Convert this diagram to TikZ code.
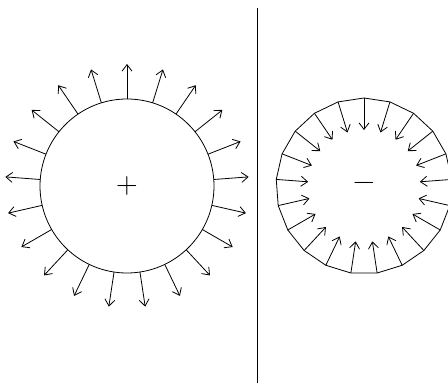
\documentclass[tikz,border=0pt]{standalone}
\usepackage{fontspec}
\usetikzlibrary{arrows.meta}
\begin{document}
\begin{tikzpicture}[x=1pt,y=1pt,line width=0.8pt,
  vec/.style={-{Straight Barb[length=6.5pt,width=10pt,line width=0.8pt]}},
  sign/.style={inner sep=0pt,font=\fontsize{30}{30}\selectfont}]
\useasboundingbox (0,0) rectangle (448,383);
\coordinate (L) at (127,197);
\coordinate (R) at (364,197);
% divider
\coordinate (top) at (257,375);
\coordinate (bot) at (257,0);
\draw (top) -- (bot);
% left sphere: outward field
\draw (L) circle[radius=87];
\foreach \k in {0,...,20}{
  \draw[vec,shift={(L)}] ({90+\k*360/21}:87) -- ({90+\k*360/21}:122);
}
\node[sign] (plus) at (L) {+};
% right sphere: inward field
\draw[shift={(R)}] (90:88) \foreach \k in {1,...,20}{ -- ({90+\k*360/21}:88)} -- cycle;
\foreach \k in {0,...,20}{
  \draw[vec,shift={(R)}] ({90+\k*360/21}:88) -- ({90+\k*360/21}:56);
}
\node[sign] (minus) at (R) {−};
\end{tikzpicture}
\end{document}
